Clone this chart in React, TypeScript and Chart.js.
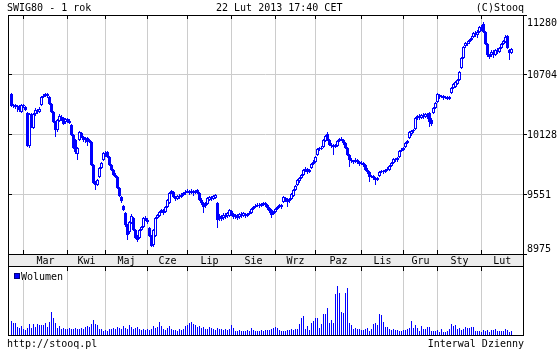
import React, { useEffect, useRef } from "react";
import { Chart, registerables } from "chart.js";
Chart.register(...registerables);

const TITLE = "SWIG80 - 1 rok";
const DATE_TEXT = "22 Lut 2013 17:40 CET";
const COPY_TEXT = "(C)Stooq";
const FOOT_LEFT = "http://stooq.pl";
const FOOT_RIGHT = "Interwal Dzienny";
const VOL_LABEL = "Wolumen";

const MONTHS = ["Mar", "Kwi", "Maj", "Cze", "Lip", "Sie", "Wrz", "Paz", "Lis", "Gru", "Sty", "Lut"];
// index of first trading day of each month
const MONTH_START = [6, 28, 47, 68, 88, 110, 132, 152, 175, 196, 213, 235];
const PRICE_TICKS = [8975, 9551, 10128, 10704, 11280];

const OPEN = [
  10518, 10403, 10412, 10393, 10403, 10345, 10412, 10393, 10335, 10017,
  10325, 10190, 10325, 10364, 10345, 10412, 10489, 10499, 10518, 10489,
  10422, 10345, 10248, 10171, 10258, 10296, 10287, 10248, 10277, 10258,
  10219, 10123, 10075, 9940, 10075, 10142, 10103, 10075, 10094, 10055,
  10055, 9834, 9660, 9641, 9718, 9805, 9882, 9949, 9959, 9911,
  9834, 9786, 9737, 9718, 9612, 9525, 9438, 9371, 9255, 9187,
  9274, 9322, 9207, 9149, 9129, 9207, 9236, 9322, 9303, 9226,
  9149, 9062, 9149, 9322, 9342, 9380, 9399, 9380, 9428, 9467,
  9563, 9573, 9525, 9506, 9535, 9525, 9544, 9563, 9573, 9583,
  9563, 9583, 9563, 9592, 9563, 9496, 9467, 9438, 9457, 9496,
  9525, 9506, 9515, 9467, 9322, 9342, 9322, 9351, 9342, 9342,
  9390, 9361, 9332, 9351, 9332, 9361, 9342, 9361, 9342, 9361,
  9371, 9409, 9428, 9438, 9448, 9438, 9457, 9467, 9448, 9419,
  9399, 9361, 9380, 9409, 9428, 9428, 9477, 9515, 9496, 9486,
  9506, 9535, 9592, 9641, 9679, 9708, 9737, 9786, 9795, 9766,
  9805, 9843, 9863, 9930, 9988, 9997, 10007, 10065, 10132, 10075,
  10026, 10017, 10007, 10017, 10065, 10084, 10075, 10046, 9997, 9930,
  9882, 9872, 9863, 9882, 9863, 9843, 9853, 9834, 9786, 9766,
  9718, 9728, 9708, 9689, 9728, 9766, 9776, 9766, 9786, 9786,
  9824, 9853, 9891, 9882, 9911, 9968, 9978, 10007, 10046, 10094,
  10132, 10161, 10181, 10287, 10306, 10287, 10316, 10296, 10316, 10335,
  10267, 10335, 10383, 10441, 10509, 10489, 10499, 10480, 10489, 10470,
  10528, 10576, 10586, 10615, 10653, 10769, 10866, 10981, 11010, 11020,
  11039, 11068, 11106, 11087, 11116, 11155, 11193, 11116, 11001, 10895,
  10895, 10923, 10895, 10943, 10923, 10962, 11001, 11020, 11078, 10943, 10914,
];

const CLOSE = [
  10403, 10412, 10393, 10403, 10364, 10412, 10403, 10364, 10017, 10325,
  10210, 10325, 10364, 10345, 10374, 10489, 10499, 10518, 10499, 10422,
  10345, 10248, 10171, 10267, 10306, 10267, 10229, 10277, 10258, 10239,
  10123, 9997, 9959, 9997, 10152, 10103, 10075, 10094, 10055, 10075,
  9834, 9660, 9641, 9689, 9805, 9853, 9949, 9930, 9911, 9834,
  9786, 9737, 9718, 9612, 9535, 9486, 9399, 9255, 9158, 9284,
  9342, 9207, 9129, 9110, 9207, 9236, 9322, 9303, 9284, 9149,
  9052, 9207, 9322, 9351, 9380, 9399, 9371, 9428, 9496, 9563,
  9583, 9525, 9506, 9535, 9525, 9544, 9563, 9573, 9583, 9563,
  9583, 9563, 9573, 9563, 9496, 9467, 9428, 9457, 9515, 9525,
  9506, 9535, 9544, 9303, 9342, 9313, 9351, 9332, 9371, 9399,
  9361, 9332, 9351, 9322, 9361, 9342, 9371, 9342, 9361, 9371,
  9409, 9428, 9438, 9448, 9438, 9457, 9467, 9448, 9419, 9390,
  9351, 9380, 9409, 9428, 9448, 9448, 9525, 9496, 9477, 9506,
  9554, 9592, 9631, 9689, 9708, 9737, 9786, 9795, 9766, 9786,
  9843, 9863, 9911, 9988, 9997, 9988, 10075, 10113, 10075, 10026,
  10017, 10007, 10026, 10065, 10084, 10075, 10046, 9997, 9930, 9882,
  9872, 9863, 9882, 9863, 9843, 9853, 9834, 9786, 9766, 9718,
  9728, 9708, 9689, 9708, 9766, 9776, 9766, 9786, 9795, 9824,
  9853, 9891, 9882, 9901, 9968, 9978, 9997, 10046, 10065, 10152,
  10161, 10171, 10287, 10306, 10287, 10316, 10296, 10325, 10296, 10248,
  10229, 10383, 10432, 10518, 10489, 10499, 10480, 10489, 10470, 10489,
  10576, 10615, 10634, 10653, 10731, 10866, 10972, 11010, 11001, 11039,
  11058, 11106, 11087, 11116, 11164, 11145, 11116, 11001, 10895, 10875,
  10923, 10895, 10943, 10923, 10962, 11001, 11029, 11068, 10962, 10914, 10952,
];

const HIGH = [
  10528, 10422, 10422, 10412, 10412, 10422, 10422, 10403, 10345, 10335,
  10335, 10335, 10383, 10374, 10393, 10499, 10518, 10528, 10528, 10499,
  10432, 10354, 10258, 10277, 10325, 10316, 10296, 10287, 10287, 10277,
  10229, 10132, 10084, 10007, 10161, 10152, 10113, 10103, 10103, 10084,
  10065, 9843, 9679, 9699, 9814, 9863, 9959, 9968, 9968, 9920,
  9843, 9795, 9757, 9728, 9621, 9535, 9448, 9380, 9264, 9293,
  9361, 9332, 9216, 9158, 9216, 9245, 9332, 9342, 9322, 9236,
  9158, 9216, 9332, 9361, 9390, 9409, 9409, 9438, 9506, 9573,
  9592, 9583, 9535, 9544, 9554, 9563, 9573, 9592, 9602, 9592,
  9602, 9592, 9592, 9602, 9573, 9515, 9477, 9477, 9525, 9535,
  9535, 9544, 9554, 9477, 9361, 9351, 9371, 9371, 9380, 9409,
  9399, 9371, 9361, 9361, 9371, 9380, 9380, 9371, 9371, 9390,
  9419, 9438, 9457, 9467, 9467, 9467, 9477, 9477, 9457, 9428,
  9409, 9390, 9419, 9438, 9457, 9457, 9535, 9525, 9515, 9515,
  9563, 9602, 9641, 9699, 9718, 9747, 9795, 9814, 9805, 9795,
  9853, 9882, 9920, 9997, 10007, 10017, 10084, 10123, 10152, 10084,
  10046, 10036, 10036, 10075, 10094, 10103, 10084, 10055, 10007, 9940,
  9901, 9882, 9901, 9891, 9872, 9872, 9863, 9843, 9805, 9776,
  9737, 9737, 9718, 9718, 9776, 9786, 9786, 9795, 9814, 9834,
  9863, 9901, 9901, 9911, 9978, 9997, 10007, 10055, 10075, 10161,
  10171, 10181, 10296, 10316, 10325, 10325, 10335, 10335, 10335, 10345,
  10287, 10393, 10441, 10528, 10518, 10509, 10509, 10499, 10499, 10499,
  10586, 10625, 10644, 10663, 10740, 10875, 10981, 11020, 11029, 11049,
  11078, 11116, 11126, 11135, 11174, 11184, 11212, 11126, 11010, 10904,
  10943, 10943, 10952, 10962, 10972, 11010, 11039, 11087, 11087, 10952, 10962,
];

const LOW = [
  10393, 10383, 10374, 10345, 10345, 10335, 10383, 10354, 10007, 9997,
  10190, 10181, 10306, 10325, 10335, 10403, 10480, 10489, 10480, 10412,
  10335, 10239, 10103, 10152, 10248, 10258, 10219, 10229, 10239, 10229,
  10113, 9988, 9940, 9882, 10065, 10094, 10055, 10046, 10017, 10046,
  9824, 9650, 9592, 9631, 9708, 9795, 9872, 9911, 9901, 9824,
  9776, 9728, 9708, 9602, 9525, 9467, 9390, 9236, 9110, 9168,
  9264, 9197, 9120, 9091, 9120, 9197, 9226, 9293, 9264, 9139,
  9042, 9042, 9139, 9313, 9332, 9371, 9351, 9371, 9419, 9457,
  9554, 9515, 9486, 9496, 9506, 9515, 9535, 9544, 9563, 9544,
  9554, 9535, 9554, 9554, 9486, 9448, 9371, 9419, 9448, 9486,
  9486, 9496, 9506, 9226, 9293, 9293, 9303, 9313, 9322, 9332,
  9342, 9313, 9313, 9303, 9313, 9322, 9332, 9322, 9332, 9351,
  9361, 9399, 9419, 9428, 9419, 9428, 9438, 9428, 9399, 9371,
  9322, 9351, 9371, 9399, 9419, 9409, 9467, 9477, 9428, 9467,
  9496, 9525, 9583, 9631, 9660, 9699, 9728, 9766, 9747, 9757,
  9795, 9834, 9853, 9920, 9968, 9978, 9997, 10055, 10065, 10017,
  9997, 9930, 9997, 10007, 10055, 10065, 10026, 9988, 9920, 9814,
  9853, 9843, 9853, 9843, 9824, 9834, 9814, 9776, 9747, 9670,
  9708, 9689, 9641, 9679, 9718, 9757, 9747, 9757, 9776, 9776,
  9814, 9843, 9863, 9863, 9901, 9959, 9968, 9997, 10036, 10084,
  10113, 10142, 10171, 10267, 10267, 10277, 10277, 10287, 10277, 10200,
  10210, 10325, 10374, 10432, 10470, 10480, 10460, 10470, 10460, 10460,
  10518, 10567, 10576, 10605, 10644, 10759, 10856, 10962, 10981, 11001,
  11029, 11058, 11068, 11058, 11106, 11126, 11106, 10991, 10875, 10856,
  10875, 10866, 10885, 10904, 10914, 10952, 10991, 11010, 10952, 10846, 10904,
];

const VOLUME = [
  14, 12, 12, 8, 7, 9, 6, 5, 7, 11,
  7, 11, 8, 11, 10, 10, 10, 12, 8, 13,
  23, 17, 12, 7, 9, 6, 7, 6, 6, 7,
  6, 6, 7, 6, 6, 7, 6, 8, 9, 8,
  11, 15, 11, 10, 6, 6, 4, 5, 4, 6,
  6, 7, 6, 8, 7, 6, 9, 7, 6, 10,
  8, 6, 7, 8, 6, 5, 6, 5, 6, 5,
  6, 9, 7, 8, 13, 9, 6, 5, 7, 9,
  6, 5, 5, 4, 6, 5, 6, 9, 10, 12,
  13, 11, 10, 8, 9, 7, 8, 6, 6, 8,
  7, 6, 5, 7, 6, 6, 5, 6, 5, 6,
  10, 7, 4, 4, 5, 4, 4, 4, 5, 4,
  7, 5, 4, 4, 4, 5, 4, 5, 5, 5,
  6, 7, 8, 7, 5, 4, 4, 4, 5, 5,
  6, 5, 6, 6, 11, 17, 19, 6, 9, 5,
  12, 14, 17, 17, 7, 11, 21, 21, 27, 12,
  15, 12, 41, 49, 42, 23, 22, 42, 47, 12,
  10, 6, 7, 6, 6, 5, 5, 6, 7, 4,
  6, 11, 12, 10, 21, 20, 13, 8, 8, 6,
  5, 6, 5, 5, 4, 4, 5, 5, 6, 7,
  14, 7, 10, 7, 4, 9, 6, 6, 8, 8,
  4, 4, 4, 5, 3, 6, 3, 3, 4, 6,
  11, 9, 10, 6, 7, 5, 6, 8, 7, 7,
  8, 8, 4, 4, 4, 3, 5, 4, 5, 3,
  5, 5, 6, 4, 4, 4, 4, 6, 5, 3, 4,
];

const BLUE = "#0000ff";
const GRID = "#cccccc";
const BAND = "#ececec";
const FONT = '10px "DejaVu Sans Mono", monospace';

export default function App() {
  const ref = useRef<HTMLCanvasElement | null>(null);

  useEffect(() => {
    document.body.style.margin = "0";
    const canvas = ref.current;
    if (!canvas) return;

    const idx = CLOSE.map((_, i) => i);
    const bodies = idx.map((i) => ({ x: i, y: [OPEN[i], CLOSE[i]] }));
    const wicks = idx.map((i) => ({ x: i, y: [LOW[i], HIGH[i]] }));
    const vols = idx.map((i) => ({ x: i, y: VOLUME[i] }));

    const pMax = PRICE_TICKS[PRICE_TICKS.length - 1];
    const pMin = PRICE_TICKS[0];
    // price panel occupies 239 of the 320 px plot height
    const yMin = pMax - (pMax - pMin) * (320 / 239);

    const deco = {
      id: "deco",
      beforeDraw(chart: any) {
        const ctx = chart.ctx;
        ctx.save();
        ctx.fillStyle = "#ffffff";
        ctx.fillRect(0, 0, chart.width, chart.height);
        ctx.restore();
      },
      afterDraw(chart: any) {
        const ctx = chart.ctx as CanvasRenderingContext2D;
        const a = chart.chartArea;
        const xs = chart.scales.x;
        const ys = chart.scales.y;
        const bandTop = Math.round(ys.getPixelForValue(pMin));
        const bandBot = bandTop + 12;
        ctx.save();
        // month band
        ctx.fillStyle = BAND;
        ctx.fillRect(a.left, bandTop, a.right - a.left, bandBot - bandTop);
        ctx.fillStyle = "#000";
        ctx.fillRect(a.left, bandTop, a.right - a.left, 1);
        ctx.fillRect(a.left, bandBot, a.right - a.left, 1);
        // frame
        ctx.strokeStyle = "#000";
        ctx.lineWidth = 1;
        ctx.strokeRect(a.left + 0.5, a.top + 0.5, a.right - a.left, a.bottom - a.top);

        // month ticks and labels
        ctx.font = FONT;
        ctx.textBaseline = "alphabetic";
        ctx.textAlign = "center";
        const mpx = MONTH_START.map((m) => xs.getPixelForValue(m));
        mpx.forEach((px, k) => {
          const col = Math.floor(px);
          ctx.fillStyle = "#000";
          ctx.fillRect(col, a.top, 1, 4);
          ctx.fillRect(col, bandTop - 4, 1, 4);
          ctx.fillRect(col, bandBot + 1, 1, 4);
          const end = k + 1 < mpx.length ? mpx[k + 1] : a.right;
          ctx.fillText(MONTHS[k], (px + end) / 2, bandTop + 10);
        });

        // price ticks and labels
        ctx.textAlign = "left";
        PRICE_TICKS.forEach((t) => {
          const py = ys.getPixelForValue(t);
          const row = Math.min(Math.floor(py), bandTop);
          ctx.fillStyle = "#000";
          ctx.fillRect(a.left, row, 4, 1);
          ctx.fillRect(a.right, row, 4, 1);
          let base = row + 4;
          if (t === pMax) base = a.top + 11;
          if (t === pMin) base = bandTop - 2;
          ctx.fillText(String(t), 527, base);
        });

        // header / footer
        ctx.fillText(TITLE, 7, 11);
        ctx.fillText(DATE_TEXT, 216, 11);
        ctx.textAlign = "right";
        ctx.fillText(COPY_TEXT, 524, 11);
        ctx.fillText(FOOT_RIGHT, 524, 347);
        ctx.textAlign = "left";
        ctx.fillText(FOOT_LEFT, 7, 347);

        // volume legend
        ctx.fillStyle = "#ffffff";
        ctx.fillRect(a.left + 1, bandBot + 1, 57, 13);
        ctx.fillStyle = BLUE;
        ctx.fillRect(14, bandBot + 7, 6, 6);
        ctx.strokeStyle = "#000080";
        ctx.strokeRect(14.5, bandBot + 7.5, 5, 5);
        ctx.fillStyle = "#000";
        ctx.fillText(VOL_LABEL, 21, bandBot + 14);
        ctx.restore();
      },
    };

    const chart = new Chart(canvas, {
      type: "bar",
      data: {
        datasets: [
          {
            label: "body",
            data: bodies as any,
            backgroundColor: (c: any) => {
              const i = c.dataIndex;
              if (i === undefined) return BLUE;
              return CLOSE[i] >= OPEN[i] ? "#ffffff" : BLUE;
            },
            borderColor: BLUE,
            borderWidth: 1,
            borderSkipped: false,
            barThickness: 3,
            minBarLength: 1,
            inflateAmount: 0,
            stack: "s",
            order: 0,
            yAxisID: "y",
          } as any,
          {
            label: "wick",
            data: wicks as any,
            backgroundColor: BLUE,
            borderWidth: 0,
            barThickness: 1,
            minBarLength: 1,
            inflateAmount: 0,
            stack: "s",
            order: 1,
            yAxisID: "y",
          } as any,
          {
            label: VOL_LABEL,
            data: vols as any,
            backgroundColor: BLUE,
            borderWidth: 0,
            barThickness: 1,
            inflateAmount: 0,
            stack: "s",
            order: 2,
            yAxisID: "yv",
          } as any,
        ],
      },
      options: {
        animation: false,
        responsive: false,
        devicePixelRatio: 1,
        events: [],
        layout: { padding: { left: 8, top: 15, bottom: 15, right: 0 } },
        plugins: { legend: { display: false }, tooltip: { enabled: false } },
        scales: {
          x: {
            type: "linear",
            min: -1.75,
            max: 255.75,
            offset: false,
            grid: { color: GRID, drawTicks: false, offset: false },
            border: { display: false },
            ticks: { display: false },
            afterBuildTicks: (s: any) => {
              s.ticks = MONTH_START.map((v) => ({ value: v }));
            },
            afterFit: (s: any) => {
              s.height = 0;
            },
          },
          y: {
            position: "right",
            stacked: false,
            min: yMin,
            max: pMax,
            grid: { color: GRID, drawTicks: false },
            border: { display: false },
            ticks: { display: false },
            afterBuildTicks: (s: any) => {
              s.ticks = PRICE_TICKS.map((v) => ({ value: v }));
            },
            afterFit: (s: any) => {
              s.width = 37;
            },
          },
          yv: { display: false, stacked: false, min: 0, max: 320, position: "left" },
        },
      } as any,
      plugins: [deco],
    });

    return () => chart.destroy();
  }, []);

  return (
    <div style={{ position: "absolute", left: 0, top: 0, width: 560, height: 350 }}>
      <canvas ref={ref} width={560} height={350} style={{ display: "block", width: 560, height: 350 }} />
    </div>
  );
}
